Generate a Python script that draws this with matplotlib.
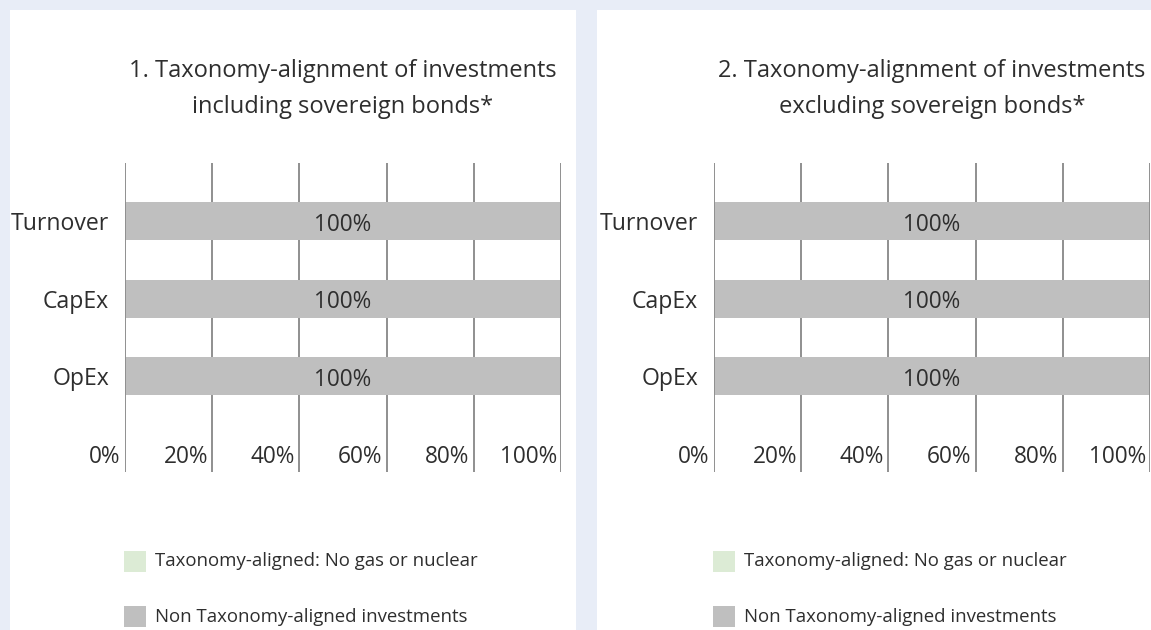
import matplotlib.pyplot as plt
from matplotlib.patches import Rectangle

plt.rcParams['font.family'] = ['Open Sans', 'DejaVu Sans']

categories = ['Turnover', 'CapEx', 'OpEx']
aligned_incl = [0, 0, 0]
non_aligned_incl = [100, 100, 100]
aligned_excl = [0, 0, 0]
non_aligned_excl = [100, 100, 100]
x_ticks = [0, 20, 40, 60, 80, 100]
x_tick_labels = ['0%', '20%', '40%', '60%', '80%', '100%']
titles = [
    ['1. Taxonomy-alignment of investments', 'including sovereign bonds*'],
    ['2. Taxonomy-alignment of investments', 'excluding sovereign bonds*'],
]
legend_labels = ['Taxonomy-aligned: No gas or nuclear', 'Non Taxonomy-aligned investments']

W, H = 1151, 630
BG = '#e8edf7'
GREEN = '#dcebd5'
GREY = '#bfbfbf'
GRID = '#8f8f8f'
TEXT = '#2e2e2e'

fig = plt.figure(figsize=(W / 100, H / 100), dpi=100)
fig.patch.set_facecolor(BG)


def draw_panel(dx, card_x, title, aligned, non_aligned):
    # white card behind the chart
    fig.patches.append(Rectangle((card_x / W, 0), 566 / W, (H - 10) / H,
                                 transform=fig.transFigure, facecolor='white',
                                 edgecolor='none', zorder=-5))
    ax = fig.add_axes([(dx + 125) / W, 1 - 472 / H, 436 / W, (472 - 163) / H])
    ax.set_facecolor('none')
    ax.set_zorder(2)
    ypos = list(range(len(categories)))
    ax.set_xlim(0, 100)
    ax.set_ylim(3.24, -0.75)

    for t in x_ticks:
        z = 3 if t in (0, 100) else 1
        ax.axvline(t, color=GRID, lw=1.4, zorder=z)

    ax.barh(ypos, aligned, height=0.49, color=GREEN, zorder=2)
    ax.barh(ypos, non_aligned, left=aligned, height=0.49, color=GREY, zorder=2)

    for i, (a, v) in enumerate(zip(aligned, non_aligned)):
        ax.text(a + 50, i + 0.01, f'{v}%', ha='center', va='center_baseline',
                fontsize=16.3, color=TEXT, zorder=4)
        ax.annotate(categories[i], (0, i + 0.116), xytext=(-11.5, 0),
                    textcoords='offset points', ha='right', va='baseline',
                    fontsize=16.6, color=TEXT, annotation_clip=False)

    for t, lab in zip(x_ticks, x_tick_labels):
        ax.annotate(lab, (t, 3.12), xytext=(-3, 0), textcoords='offset points',
                    ha='right', va='baseline', fontsize=16.3, color=TEXT,
                    annotation_clip=False)

    ax.set_xticks([])
    ax.set_yticks([])
    for s in ax.spines.values():
        s.set_visible(False)

    cx = (dx + 343) / W
    fig.text(cx, 1 - 77 / H, title[0], ha='center', va='baseline',
             fontsize=17, color=TEXT)
    fig.text(cx, 1 - 113 / H, title[1], ha='center', va='baseline',
             fontsize=17, color=TEXT)

    # legend
    for k, (lab, col) in enumerate(zip(legend_labels, [GREEN, GREY])):
        y0 = 551 + k * 55
        fig.patches.append(Rectangle(((dx + 124) / W, 1 - (y0 + 21) / H), 22 / W, 21 / H,
                                     transform=fig.transFigure, facecolor=col,
                                     edgecolor='none', zorder=1))
        fig.text((dx + 155) / W, 1 - (y0 + 10.5) / H, lab, ha='left', va='center',
                 fontsize=13.4, color=TEXT)


draw_panel(0, 10, titles[0], aligned_incl, non_aligned_incl)
draw_panel(589, 597, titles[1], aligned_excl, non_aligned_excl)

plt.savefig('out.png', dpi=100, facecolor=BG)
